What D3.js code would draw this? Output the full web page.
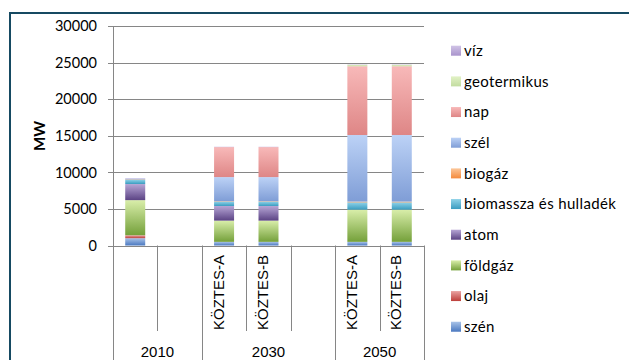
<!DOCTYPE html>
<html>
<head>
<meta charset="utf-8">
<script src="https://cdn.jsdelivr.net/npm/d3@7"></script>
<style>
  html, body { margin: 0; padding: 0; background: #fff; }
  svg { display: block; }
</style>
</head>
<body>
<svg id="chart" width="629" height="360"></svg>
<script>
// Installed capacity (MW) by source, per year / scenario column
const slotYears  = ['2010', '2010', '2030', '2030', '2030', '2050', '2050'];
const slotLabels = ['', '', 'KÖZTES-A', 'KÖZTES-B', '', 'KÖZTES-A', 'KÖZTES-B'];
const slotHasBar = [true, false, true, true, false, true, true];
const years = ['2010', '2030', '2050'];

// stacking order, bottom to top
const seriesNames = ['szén', 'olaj', 'földgáz', 'atom', 'biomassza és hulladék',
                     'biogáz', 'szél', 'nap', 'geotermikus', 'víz'];

const szen        = [1000, 0,  500,  500, 0,  500,  500];
const olaj        = [ 400, 0,    0,    0, 0,    0,    0];
const foldgaz     = [4800, 0, 2900, 2900, 0, 4400, 4400];
const atom        = [2200, 0, 2000, 2000, 0,    0,    0];
const biomassza   = [ 600, 0,  600,  600, 0, 1000, 1000];
const biogaz      = [  50, 0,   50,   50, 0,  100,  100];
const szel        = [ 100, 0, 3300, 3300, 0, 9100, 9100];
const nap         = [   0, 0, 4100, 4100, 0, 9400, 9400];
const geotermikus = [   0, 0,    0,    0, 0,  200,  200];
const viz         = [  50, 0,   50,   50, 0,   50,   50];

const yTicks = [0, 5000, 10000, 15000, 20000, 25000, 30000];

const seriesValues = [szen, olaj, foldgaz, atom, biomassza, biogaz, szel, nap, geotermikus, viz];

// light (top) -> dark (bottom) fill for each source
const seriesColors = [
  ['#a9c3e8', '#4a78c0'],  // szén
  ['#eaa3a1', '#bd3f3b'],  // olaj
  ['#d9eeaa', '#74a03a'],  // földgáz
  ['#b7a6d6', '#5b4384'],  // atom
  ['#8fd2e8', '#3a9cc0'],  // biomassza és hulladék
  ['#fcc79a', '#f48a3c'],  // biogáz
  ['#bcd2f6', '#7f9dd6'],  // szél
  ['#f8b9b9', '#de8686'],  // nap
  ['#e2f2c6', '#c2dca0'],  // geotermikus
  ['#d0c3e6', '#a994cc']   // víz
];

const rows = slotYears.map((y, i) => {
  const r = { i };
  seriesNames.forEach((s, k) => { r[s] = seriesValues[k][i]; });
  return r;
});

const svg = d3.select('#chart');
const defs = svg.append('defs');

seriesNames.forEach((s, k) => {
  const g = defs.append('linearGradient')
    .attr('id', 'grad' + k)
    .attr('x1', 0).attr('y1', 0).attr('x2', 0).attr('y2', 1);
  g.append('stop').attr('offset', '0%').attr('stop-color', seriesColors[k][0]);
  g.append('stop').attr('offset', '100%').attr('stop-color', seriesColors[k][1]);
});

// outer chart frame
svg.append('rect')
  .attr('x', 10).attr('y', 13)
  .attr('width', 640).attr('height', 360)
  .attr('fill', '#fff')
  .attr('stroke', '#164a62').attr('stroke-width', 2);

const plot = { left: 113, right: 424, top: 26, bottom: 245.5 };

const x = d3.scaleBand()
  .domain(d3.range(slotYears.length))
  .range([plot.left, plot.right])
  .paddingInner(0).paddingOuter(0);

const y = d3.scaleLinear()
  .domain([0, 30000])
  .range([plot.bottom, plot.top]);

const axisColor = '#868686';

// horizontal gridlines with small left tick
svg.append('g')
  .selectAll('line')
  .data(yTicks)
  .join('line')
  .attr('x1', plot.left - 5)
  .attr('x2', plot.right)
  .attr('y1', d => Math.round(y(d)) + 0.5)
  .attr('y2', d => Math.round(y(d)) + 0.5)
  .attr('stroke', axisColor)
  .attr('stroke-width', 1);

// y tick labels
svg.append('g')
  .selectAll('text')
  .data(yTicks)
  .join('text')
  .attr('x', 97)
  .attr('y', d => y(d))
  .attr('dy', '0.36em')
  .attr('text-anchor', 'end')
  .attr('font-family', 'Lato, sans-serif')
  .attr('font-size', 14.5)
  .attr('fill', '#000')
  .text(d => d);

// y axis title
svg.append('text')
  .attr('transform', 'translate(45,136) rotate(-90)')
  .attr('text-anchor', 'middle')
  .attr('font-family', 'Lato, sans-serif')
  .attr('font-weight', 'bold')
  .attr('font-size', 15)
  .attr('fill', '#000')
  .text('MW');

// stacked bars
const stack = d3.stack().keys(seriesNames);
const stacked = stack(rows);
const barW = x.bandwidth() * 0.45;

svg.append('g')
  .selectAll('g')
  .data(stacked)
  .join('g')
  .attr('fill', (d, k) => `url(#grad${k})`)
  .selectAll('rect')
  .data(d => d.filter(p => slotHasBar[p.data.i] && p[1] > p[0]))
  .join('rect')
  .attr('x', p => x(p.data.i) + (x.bandwidth() - barW) / 2)
  .attr('width', barW)
  .attr('y', p => y(p[1]))
  .attr('height', p => y(p[0]) - y(p[1]));

// axis lines
svg.append('line')
  .attr('x1', plot.left + 0.5).attr('x2', plot.left + 0.5)
  .attr('y1', plot.top).attr('y2', 360)
  .attr('stroke', axisColor);
svg.append('line')
  .attr('x1', plot.left).attr('x2', plot.right)
  .attr('y1', Math.round(plot.bottom) + 0.5).attr('y2', Math.round(plot.bottom) + 0.5)
  .attr('stroke', axisColor);

// category separators: short between slots, long between year groups
const groupEdges = [];
slotYears.forEach((yr, i) => { if (i > 0 && yr !== slotYears[i - 1]) groupEdges.push(i); });
svg.append('g')
  .selectAll('line')
  .data(d3.range(1, slotYears.length + 1))
  .join('line')
  .attr('x1', i => Math.round(x(i - 1) + x.bandwidth()) + 0.5)
  .attr('x2', i => Math.round(x(i - 1) + x.bandwidth()) + 0.5)
  .attr('y1', plot.bottom)
  .attr('y2', i => (groupEdges.includes(i) || i === slotYears.length) ? 360 : 331)
  .attr('stroke', axisColor);

// scenario labels (rotated)
svg.append('g')
  .selectAll('text')
  .data(slotLabels.map((l, i) => ({ l, i })).filter(d => d.l))
  .join('text')
  .attr('transform', d => `translate(${x(d.i) + x.bandwidth() / 2 - 0.5},255) rotate(-90)`)
  .attr('text-anchor', 'end')
  .attr('font-family', '"Liberation Sans", Arial, sans-serif')
  .attr('font-size', 15)
  .attr('fill', '#000')
  .text(d => d.l);

// year labels centred under each group
svg.append('g')
  .selectAll('text')
  .data(years)
  .join('text')
  .attr('x', yr => {
    const idx = slotYears.map((s, i) => s === yr ? i : -1).filter(i => i >= 0);
    return (x(idx[0]) + x(idx[idx.length - 1]) + x.bandwidth()) / 2;
  })
  .attr('y', 357)
  .attr('text-anchor', 'middle')
  .attr('font-family', '"Liberation Sans", Arial, sans-serif')
  .attr('font-size', 15)
  .attr('fill', '#000')
  .text(yr => yr);

// legend, top entry is the last stacked series
const legendOrder = d3.range(seriesNames.length).reverse();
const legend = svg.append('g')
  .selectAll('g')
  .data(legendOrder)
  .join('g')
  .attr('transform', (k, j) => `translate(451,${50.7 + j * 30.67})`);

legend.append('rect')
  .attr('x', 0).attr('y', -5)
  .attr('width', 10).attr('height', 10)
  .attr('fill', k => `url(#grad${k})`);

legend.append('text')
  .attr('x', 13)
  .attr('dy', '0.35em')
  .attr('font-family', 'Lato, sans-serif')
  .attr('font-size', 15)
  .attr('letter-spacing', 0.35)
  .attr('fill', '#000')
  .text(k => seriesNames[k]);
</script>
</body>
</html>
